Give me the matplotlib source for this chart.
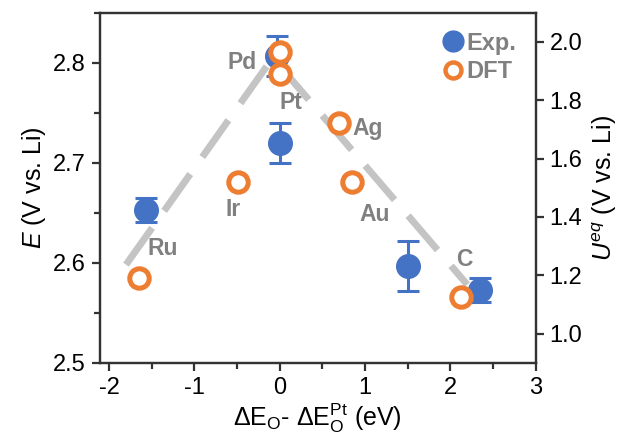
import matplotlib
matplotlib.use("Agg")
import matplotlib.pyplot as plt
from matplotlib.ticker import MultipleLocator
from matplotlib.lines import Line2D

plt.rcParams['font.family'] = ['Liberation Sans', 'DejaVu Sans']
plt.rcParams['mathtext.fontset'] = 'custom'
plt.rcParams['mathtext.rm'] = 'Liberation Sans'
plt.rcParams['mathtext.it'] = 'Liberation Sans:italic'

# Experimental data (left axis)
exp_metals = ["Ru", "Pd", "Pt", "Au", "C"]
exp_x = [-1.57, -0.03, 0.0, 1.50, 2.35]
exp_E = [2.653, 2.807, 2.720, 2.597, 2.573]
exp_err = [0.012, 0.020, 0.020, 0.025, 0.012]

# DFT data (right axis)
dft_metals = ["Ru", "Ir", "Pd", "Pt", "Ag", "Au", "C"]
dft_x = [-1.65, -0.49, 0.0, 0.0, 0.70, 0.85, 2.13]
dft_U = [1.19, 1.52, 1.965, 1.89, 1.723, 1.52, 1.124]

# Volcano guide line (left axis)
volcano_x = [-1.80, -0.08, 2.20]
volcano_E = [2.598, 2.805, 2.578]

# Metal labels
label_text = ["Ru", "Ir", "Pd", "Pt", "Ag", "Au", "C"]
label_x = [-1.37, -0.55, -0.44, 0.13, 1.03, 1.12, 2.17]
label_E = [2.614, 2.653, 2.800, 2.760, 2.734, 2.648, 2.603]

blue = "#4472C4"
orange = "#ED7D31"
gray_line = "#C4C4C4"
gray_text = "#808080"
spine_c = "#333333"

fig = plt.figure(figsize=(6.3, 4.38), dpi=100)
ax = fig.add_axes([0.1587, 0.172, 0.850 - 0.1587, 0.971 - 0.172])
ax2 = ax.twinx()

ax.plot(volcano_x, volcano_E, color=gray_line, lw=5, dashes=(6.5, 3.0),
        solid_capstyle='butt', dash_capstyle='butt', zorder=1)

ax.errorbar(exp_x, exp_E, yerr=exp_err, fmt='o', color=blue, ms=17,
            elinewidth=2.2, capsize=8, capthick=2.2, zorder=3)

ax2.plot(dft_x, dft_U, 'o', ms=14, mfc='white', mec=orange, mew=3.6,
         linestyle='none', zorder=4)

for t, x, y in zip(label_text, label_x, label_E):
    ax.text(x, y, t, color=gray_text, fontsize=16.5, fontweight='bold',
            ha='center', va='center', zorder=2)

ax.set_xlim(-2.105, 3.0)
ax.set_ylim(2.5, 2.85)
ax2.set_ylim(0.9, 2.1)

ax.xaxis.set_major_locator(MultipleLocator(1))
ax.xaxis.set_minor_locator(MultipleLocator(0.5))
ax.yaxis.set_major_locator(MultipleLocator(0.1))
ax.yaxis.set_minor_locator(MultipleLocator(0.05))
ax2.yaxis.set_major_locator(MultipleLocator(0.2))
ax.yaxis.set_major_formatter(plt.FuncFormatter(lambda v, p: f"{v:.1f}"))
ax2.yaxis.set_major_formatter(plt.FuncFormatter(lambda v, p: f"{v:.1f}"))
ax.xaxis.set_major_formatter(plt.FuncFormatter(lambda v, p: f"{v:.0f}"))

for a in (ax, ax2):
    for s in a.spines.values():
        s.set_color(spine_c)
        s.set_linewidth(1.6)
    a.tick_params(which='major', direction='out', length=6, width=1.6,
                  color=spine_c, labelsize=17, labelcolor='black', pad=4)
    a.tick_params(which='minor', direction='out', length=4, width=1.6,
                  color=spine_c)
ax.tick_params(axis='both', which='both', top=False, right=False)
ax2.tick_params(axis='y', which='both', left=False, right=True)

ax.set_ylabel(r"$\mathit{E}$ (V vs. Li)", fontsize=18, labelpad=4)
ax2.set_ylabel(r"$\mathit{U}^{eq}$ (V vs. Li)", fontsize=18, labelpad=6)
ax.set_xlabel(r"$\Delta$E$_\mathrm{O}$- $\Delta$E$_\mathrm{O}^\mathrm{Pt}$ (eV)",
              fontsize=18, labelpad=2)

handles = [
    Line2D([], [], marker='o', color=blue, ms=15, linestyle='none'),
    Line2D([], [], marker='o', mfc='white', mec=orange, mew=3.2, ms=11.5,
           linestyle='none'),
]
leg = ax2.legend(handles, ["Exp.", "DFT"], loc='upper right', frameon=False,
                 handletextpad=0.05, handlelength=1.1, labelspacing=0.25,
                 borderaxespad=0.4, prop={'size': 17, 'weight': 'bold'})
for t in leg.get_texts():
    t.set_color(gray_text)

fig.savefig("out.png", dpi=100)
